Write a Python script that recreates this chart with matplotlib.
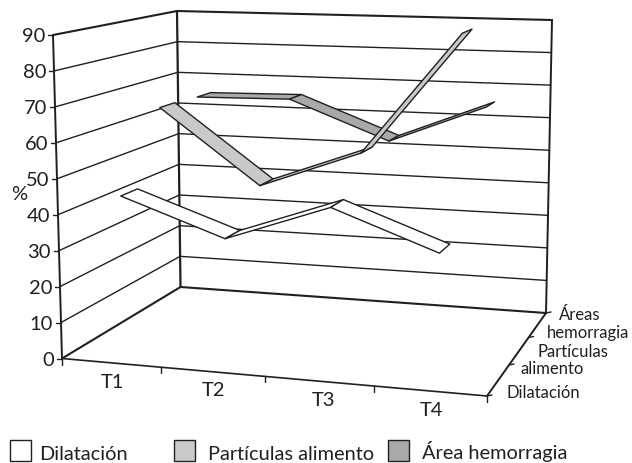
import numpy as np
import matplotlib
matplotlib.use("Agg")
from matplotlib import pyplot as plt
from matplotlib.patches import Polygon, Rectangle

plt.rcParams['font.family'] = ['Lato', 'DejaVu Sans']

times = ['T1', 'T2', 'T3', 'T4']
value_ticks = [0, 10, 20, 30, 40, 50, 60, 70, 80, 90]
dilatacion = [44.5, 34.5, 45, 34.5]
particulas = [65.5, 44, 55, 90.5]
areas = [65, 65.5, 54, 65.5]

INK = '#231f20'
W, H = 632, 463


def homography(src, dst):
    rows = []
    for (x, y), (u, v) in zip(src, dst):
        rows.append([x, y, 1, 0, 0, 0, -u * x, -u * y])
        rows.append([0, 0, 0, x, y, 1, -v * x, -v * y])
    h = np.linalg.solve(np.array(rows, float), np.array(dst, float).ravel())
    return np.append(h, 1).reshape(3, 3)


unit = [(0, 0), (1, 0), (1, 1), (0, 1)]
# plot box corners in picture pixels: front-left, front-right, back-right, back-left
floor_h = homography(unit, [(62, 358.5), (487, 396), (546, 313), (180.5, 287)])
roof_h = homography(unit, [(53, 35), (488, 53), (552, 20), (177, 11)])


def proj(x, d, v):
    p = np.array([x, d, 1.0])
    a = floor_h @ p
    b = roof_h @ p
    a = a[:2] / a[2]
    b = b[:2] / b[2]
    return a + (b - a) * v / 90.0


fig = plt.figure(figsize=(W / 100, H / 100), dpi=100)
ax = fig.add_axes([0, 0, 1, 1])
ax.set_xlim(0, W)
ax.set_ylim(H, 0)
ax.axis('off')


def seg(p, q, lw=1.0):
    ax.plot([p[0], q[0]], [p[1], q[1]], color=INK, lw=lw, solid_capstyle='round', zorder=2)


# gridlines on the two walls
for v in value_ticks:
    lw = 1.5 if v in (0, 90) else 1.0
    seg(proj(0, 0, v), proj(0, 1, v), lw)
    seg(proj(0, 1, v), proj(1, 1, v), lw)
    # value ticks
    p = proj(0, 0, v)
    seg(p, p + np.array([-5, 0]))
    ax.text(p[0] - 8, p[1] + 1.5, str(v), ha='right', va='center', fontsize=14.5, color=INK)

# wall uprights and floor
seg(proj(0, 0, 0), proj(0, 0, 90), 1.4)
seg(proj(0, 1, 0), proj(0, 1, 90), 1.6)
seg(proj(1, 1, 0), proj(1, 1, 90), 1.4)
seg(proj(0, 0, 0), proj(1, 0, 0), 1.2)
seg(proj(1, 0, 0), proj(1, 1, 0), 1.4)

# x and depth ticks
for x in [0, .25, .5, .75, 1]:
    p = proj(x, 0, 0)
    seg(p, p + np.array([0, 6]))
for d in [0, 1 / 3, 2 / 3, 1]:
    p = proj(1, d, 0)
    seg(p, p + np.array([5, -1]))

# ribbons, back series first
xpos = [.133, .395, .65, .885]
half = 0.065
for vals, dc, col in [(areas, 5 / 6, '#a7a9ac'), (particulas, .5, '#c8c9cb'), (dilatacion, 1 / 6, 'white')]:
    for i in range(len(vals) - 1):
        quad = [proj(xpos[i], dc - half, vals[i]), proj(xpos[i + 1], dc - half, vals[i + 1]),
                proj(xpos[i + 1], dc + half, vals[i + 1]), proj(xpos[i], dc + half, vals[i])]
        ax.add_patch(Polygon(quad, closed=True, facecolor=col, edgecolor=INK, lw=1.0,
                             joinstyle='round', zorder=3))

ax.text(19, 195, '%', ha='center', va='center', fontsize=14.5, color=INK)

for t, (tx, ty) in zip(times, [(112, 382), (213, 391), (324, 401), (432, 411)]):
    ax.text(tx, ty, t, ha='center', va='center', fontsize=14.5, color=INK)

for s, tx, ty in [('Áreas', 580, 315), ('hemorragia', 588, 333), ('Partículas', 573, 352),
                  ('alimento', 552, 369), ('Dilatación', 543, 393)]:
    ax.text(tx, ty, s, ha='center', va='center', fontsize=12, color=INK)

# legend
for x0, col, s, tx in [(9.5, 'white', 'Dilatación', 39), (173.5, '#c8c9cb', 'Partículas alimento', 208),
                       (387.5, '#a7a9ac', 'Área hemorragia', 422)]:
    ax.add_patch(Rectangle((x0, 440), 21, 21, facecolor=col, edgecolor=INK, lw=1.0, zorder=3))
    ax.text(tx, 459.5, s, ha='left', va='baseline', fontsize=14.4, color=INK)

fig.savefig('out.png', dpi=100)
